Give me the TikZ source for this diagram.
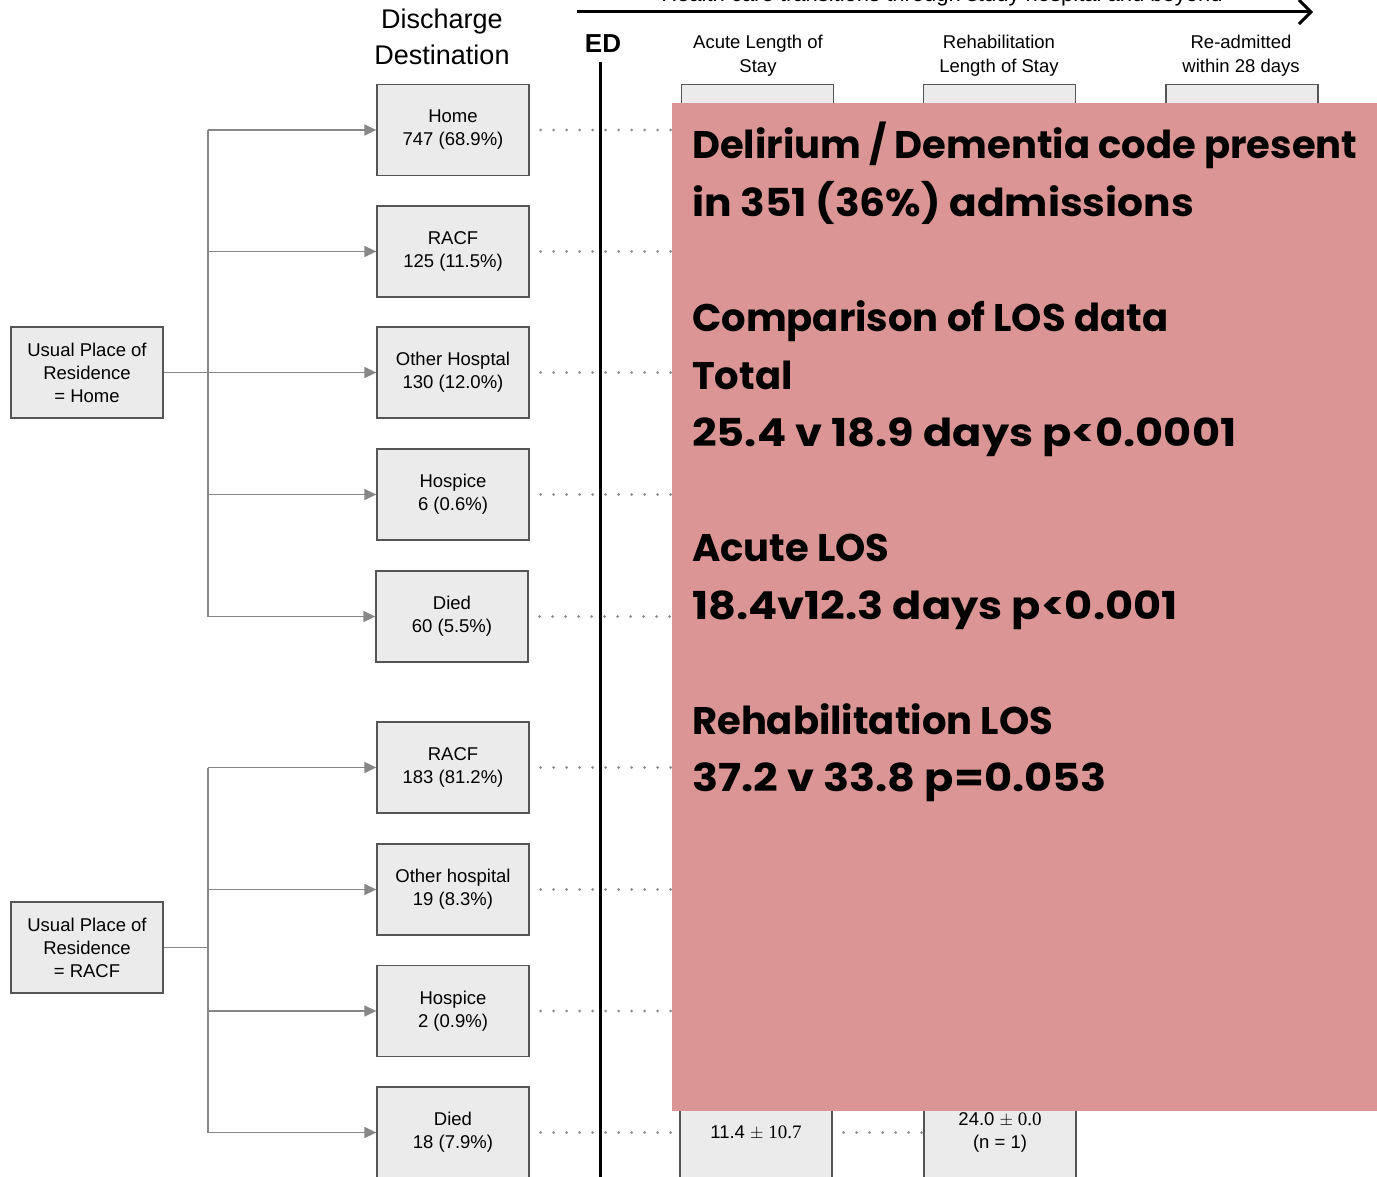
\documentclass[tikz,border=0pt]{standalone}
\usepackage{fontspec}
\setmainfont{Liberation Sans}
\newfontfamily\timesfont{Liberation Serif}
\newfontfamily\geofont{Poppins}
\newfontfamily\geomid{Poppins}[FakeStretch=1.06]
\newfontfamily\geowide{Poppins}[FakeStretch=1.12]
\usetikzlibrary{arrows.meta}

\definecolor{boxfill}{RGB}{235,235,235}
\definecolor{boxline}{RGB}{85,85,85}
\definecolor{connc}{RGB}{135,135,135}
\definecolor{dotc}{RGB}{140,140,140}
\definecolor{notec}{RGB}{218,149,148}

\tikzset{
  box/.style={draw=boxline, fill=boxfill, line width=1.3pt,
    minimum width=152pt, minimum height=91pt, inner sep=0pt, align=center,
    font=\fontsize{18.5}{23}\selectfont},
  head/.style={align=center, inner sep=0pt, font=\fontsize{18.5}{24}\selectfont},
  spine/.style={draw=connc, line width=1.4pt},
  conn/.style={draw=connc, line width=1.4pt, -{Triangle[length=12pt,width=11pt]}},
  dots/.style={draw=dotc, line width=3pt, line cap=round, dash pattern=on 0pt off 13pt},
  noteline/.style={anchor=base west, inner sep=0pt,
    font=\bfseries\fontsize{38.5}{46}\selectfont}
}

\begin{document}
\begin{tikzpicture}[x=1pt,y=-1pt]
\useasboundingbox (0,0) rectangle (1377,1177);
\clip (0,0) rectangle (1377,1177);

% timeline arrow and its caption
\node[anchor=base, inner sep=0pt, font=\fontsize{22}{26}\selectfont] (tltext) at (942,2)
  {Health care transitions through study hospital and beyond};
\coordinate (tlstart) at (577,12);
\coordinate (tlend) at (1313,12);
\draw[line width=3pt, -{Straight Barb[length=12pt,width=24pt,line width=3pt]}] (tlstart) -- (tlend);

% column headings
\node[align=center, inner sep=0pt, font=\fontsize{27}{36}\selectfont] (dischead) at (442,37)
  {Discharge\\Destination};
\node[inner sep=0pt, font=\bfseries\fontsize{26}{30}\selectfont] (edhead) at (603,44) {ED};
\node[head] (acutehead) at (758,56) {Acute Length of\\Stay};
\node[head] (rehabhead) at (999,56) {Rehabilitation\\Length of Stay};
\node[head] (readmhead) at (1241,56) {Re-admitted\\within 28 days};

% ED divider
\coordinate (edtop) at (600,62);
\coordinate (edbot) at (600,1180);
\draw[line width=3pt] (edtop) -- (edbot);

% usual place of residence
\node[box] (usualH) at (87,372.5) {Usual Place of\\Residence\\= Home};
\node[box] (usualR) at (87,947.5) {Usual Place of\\Residence\\= RACF};

% discharge destinations, usual residence = home
\node[box] (hHome) at (453,130) {Home\\747 (68.9\%)};
\node[box] (hRacf) at (453,251.5) {RACF\\125 (11.5\%)};
\node[box] (hOther) at (453,372.5) {Other Hosptal\\130 (12.0\%)};
\node[box] (hHosp) at (453,494.5) {Hospice\\6 (0.6\%)};
\node[box] (hDied) at (452,616.5) {Died\\60 (5.5\%)};

% discharge destinations, usual residence = RACF
\node[box] (rRacf) at (453,767.5) {RACF\\183 (81.2\%)};
\node[box] (rOther) at (453,889.5) {Other hospital\\19 (8.3\%)};
\node[box] (rHosp) at (453,1011) {Hospice\\2 (0.9\%)};
\node[box] (rDied) at (453,1132.5) {Died\\18 (7.9\%)};

% branching connectors
\coordinate (spH) at (208,0);
\draw[spine] (spH |- hHome.west) -- (spH |- hDied.west);
\draw[spine] (usualH.east) -- (spH |- usualH.east);
\foreach \b in {hHome,hRacf,hOther,hHosp,hDied}
  \draw[conn] (spH |- \b.west) -- (\b.west);
\draw[spine] (spH |- rRacf.west) -- (spH |- rDied.west);
\draw[spine] (usualR.east) -- (spH |- usualR.east);
\foreach \b in {rRacf,rOther,rHosp,rDied}
  \draw[conn] (spH |- \b.west) -- (\b.west);

% length of stay boxes
\node[box] (aHome) at (757.5,130) {};
\node[box] (bHome) at (999.5,130) {};
\node[box] (cHome) at (1242,130) {};
\node[box] (aDied) at (756,1132.5) {11.4 {\timesfont\fontsize{19}{23}\selectfont$\pm$ 10.7}};
\node[box] (bDied) at (1000,1132.5)
  {24.0 {\timesfont\fontsize{19}{23}\selectfont$\pm$ 0.0}\\(n = 1)};

% dotted row guides
\coordinate (gx) at (680,0);
\draw[dots] ([xshift=11pt]hHome.east) -- (aHome.west);
\foreach \b in {hRacf,hOther,hHosp,hDied,rRacf,rOther,rHosp}
  \draw[dots] ([xshift=11pt]\b.east) -- (gx |- \b.east);
\draw[dots] ([xshift=11pt]rDied.east) -- (aDied.west);
\draw[dots] ([xshift=11pt]aDied.east) -- (bDied.west);

% summary panel
\fill[notec] (672,103) rectangle (1377,1111);
\node[noteline] (n1) at (692,159) {\geofont Delirium / Dementia code present};
\node[noteline] (n2) at (692,216.5) {\geomid in 351 (36\%) admissions};
\node[noteline] (n3) at (692,331.5) {\geofont Comparison of LOS data};
\node[noteline] (n4) at (692,389) {\geofont Total};
\node[noteline] (n5) at (692,446.5) {\geowide 25.4 v 18.9 days p<0.0001};
\node[noteline] (n6) at (692,561.5) {\geofont Acute LOS};
\node[noteline] (n7) at (692,619) {\geowide 18.4v12.3 days p<0.001};
\node[noteline] (n8) at (692,734) {\geofont Rehabilitation LOS};
\node[noteline] (n9) at (692,791.5) {\geowide 37.2 v 33.8 p=0.053};
\end{tikzpicture}
\end{document}
